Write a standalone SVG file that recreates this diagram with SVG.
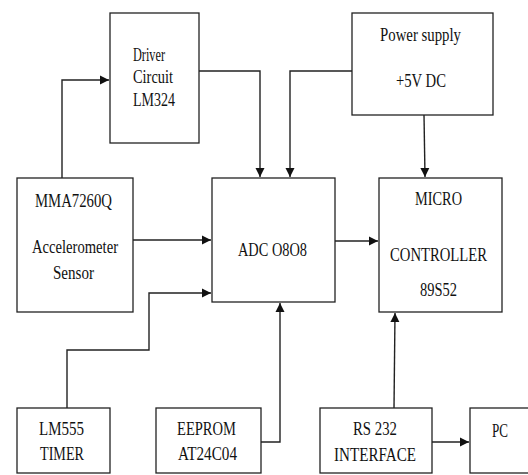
<svg xmlns="http://www.w3.org/2000/svg" width="528" height="475" viewBox="0 0 528 475">
<style>
.box{fill:#fff;stroke:#222;stroke-width:1.3}
.t{font-family:"Liberation Serif","Times New Roman",serif;font-size:19px;fill:#111}
.c{fill:none;stroke:#222;stroke-width:1.4}
</style>
<defs>
<marker id="ah" markerUnits="userSpaceOnUse" markerWidth="10" markerHeight="10" refX="9" refY="5" orient="auto">
<path d="M0,0.5 L9,5 L0,9.5 Z" fill="#111"/>
</marker>
</defs>
<rect width="528" height="475" fill="#fff"/>
<g id="connectors">
<polyline class="c" points="62,178 62,80 109,80" marker-end="url(#ah)"/>
<polyline class="c" points="199,71 260,71 260,177" marker-end="url(#ah)"/>
<polyline class="c" points="352,71 290,71 290,177" marker-end="url(#ah)"/>
<line class="c" x1="424" y1="115" x2="425" y2="177" marker-end="url(#ah)"/>
<line class="c" x1="133" y1="240" x2="211" y2="240" marker-end="url(#ah)"/>
<polyline class="c" points="67,408 67,350 149,350 149,293 211,293" marker-end="url(#ah)"/>
<polyline class="c" points="261,442 280,442 280,303" marker-end="url(#ah)"/>
<line class="c" x1="335" y1="241" x2="378" y2="241" marker-end="url(#ah)"/>
<line class="c" x1="394" y1="408" x2="395" y2="313" marker-end="url(#ah)"/>
<line class="c" x1="432" y1="442" x2="469" y2="442" marker-end="url(#ah)"/>
</g>
<g id="driver">
<rect class="box" x="110" y="13" width="89" height="130"/>
<text class="t" x="133" y="61" textLength="32" lengthAdjust="spacingAndGlyphs">Driver</text>
<text class="t" x="133" y="83" textLength="40" lengthAdjust="spacingAndGlyphs">Circuit</text>
<text class="t" x="133" y="106" textLength="42" lengthAdjust="spacingAndGlyphs">LM324</text>
</g>
<g id="power">
<rect class="box" x="352" y="13" width="141" height="102"/>
<text class="t" x="380" y="41" textLength="81" lengthAdjust="spacingAndGlyphs">Power supply</text>
<text class="t" x="396" y="87" textLength="50" lengthAdjust="spacingAndGlyphs">+5V DC</text>
</g>
<g id="sensor">
<rect class="box" x="17" y="178" width="116" height="134"/>
<text class="t" x="35" y="207" textLength="77" lengthAdjust="spacingAndGlyphs">MMA7260Q</text>
<text class="t" x="32" y="253" textLength="86" lengthAdjust="spacingAndGlyphs">Accelerometer</text>
<text class="t" x="53" y="279" textLength="41" lengthAdjust="spacingAndGlyphs">Sensor</text>
</g>
<g id="adc">
<rect class="box" x="212" y="178" width="123" height="124"/>
<text class="t" x="238" y="256" textLength="69" lengthAdjust="spacingAndGlyphs">ADC O8O8</text>
</g>
<g id="micro">
<rect class="box" x="379" y="178" width="123" height="134"/>
<text class="t" x="415" y="205" textLength="47" lengthAdjust="spacingAndGlyphs">MICRO</text>
<text class="t" x="390" y="261" textLength="97" lengthAdjust="spacingAndGlyphs">CONTROLLER</text>
<text class="t" x="420" y="296" textLength="37" lengthAdjust="spacingAndGlyphs">89S52</text>
</g>
<g id="timer">
<rect class="box" x="17" y="408" width="93" height="65"/>
<text class="t" x="39" y="435" textLength="45" lengthAdjust="spacingAndGlyphs">LM555</text>
<text class="t" x="40" y="460" textLength="44" lengthAdjust="spacingAndGlyphs">TIMER</text>
</g>
<g id="eeprom">
<rect class="box" x="156" y="408" width="105" height="65"/>
<text class="t" x="177" y="435" textLength="59" lengthAdjust="spacingAndGlyphs">EEPROM</text>
<text class="t" x="178" y="460" textLength="59" lengthAdjust="spacingAndGlyphs">AT24C04</text>
</g>
<g id="rs232">
<rect class="box" x="320" y="408" width="112" height="65"/>
<text class="t" x="353" y="435" textLength="44" lengthAdjust="spacingAndGlyphs">RS 232</text>
<text class="t" x="334" y="461" textLength="82" lengthAdjust="spacingAndGlyphs">INTERFACE</text>
</g>
<g id="pc">
<rect class="box" x="470" y="408" width="70" height="65"/>
<text class="t" x="492" y="437" textLength="16" lengthAdjust="spacingAndGlyphs">PC</text>
</g>
</svg>
